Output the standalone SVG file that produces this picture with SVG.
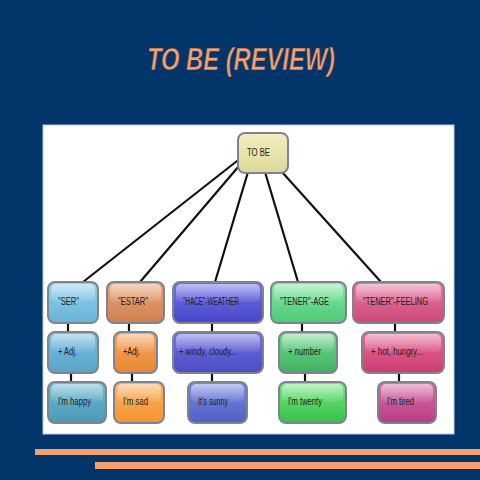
<svg xmlns="http://www.w3.org/2000/svg" width="480" height="480" viewBox="0 0 480 480">
<style>
.bx{stroke:#7d8490;stroke-width:2}
.hl{fill:url(#gloss)}
.t{font-family:"Liberation Sans",Arial,sans-serif;font-size:10px;fill:#1e1e1e}
.c line{stroke:#111;stroke-width:2.2;stroke-linecap:round}
</style>
<defs>
<linearGradient id="gloss" x1="0" y1="0" x2="0" y2="1">
<stop offset="0" stop-color="#fff" stop-opacity="0.55"/>
<stop offset="1" stop-color="#fff" stop-opacity="0.05"/>
</linearGradient>
<linearGradient id="gY" x1="0" y1="0" x2="0" y2="1"><stop offset="0" stop-color="#f2efc0"/><stop offset="1" stop-color="#dcd898"/></linearGradient>
<linearGradient id="gB1" x1="0" y1="0" x2="0" y2="1"><stop offset="0" stop-color="#8fd0ec"/><stop offset="1" stop-color="#68b4d8"/></linearGradient>
<linearGradient id="gB2" x1="0" y1="0" x2="0" y2="1"><stop offset="0" stop-color="#78bde0"/><stop offset="1" stop-color="#58a4c8"/></linearGradient>
<linearGradient id="gB3" x1="0" y1="0" x2="0" y2="1"><stop offset="0" stop-color="#6cb8d0"/><stop offset="1" stop-color="#4c9ab8"/></linearGradient>
<linearGradient id="gO1" x1="0" y1="0" x2="0" y2="1"><stop offset="0" stop-color="#e8a478"/><stop offset="1" stop-color="#d08050"/></linearGradient>
<linearGradient id="gO2" x1="0" y1="0" x2="0" y2="1"><stop offset="0" stop-color="#f4a460"/><stop offset="1" stop-color="#e88830"/></linearGradient>
<linearGradient id="gO3" x1="0" y1="0" x2="0" y2="1"><stop offset="0" stop-color="#fbb060"/><stop offset="1" stop-color="#f49430"/></linearGradient>
<linearGradient id="gV1" x1="0" y1="0" x2="0" y2="1"><stop offset="0" stop-color="#7070e8"/><stop offset="1" stop-color="#4848c8"/></linearGradient>
<linearGradient id="gV2" x1="0" y1="0" x2="0" y2="1"><stop offset="0" stop-color="#7070e0"/><stop offset="1" stop-color="#4c4cc4"/></linearGradient>
<linearGradient id="gV3" x1="0" y1="0" x2="0" y2="1"><stop offset="0" stop-color="#7888e0"/><stop offset="1" stop-color="#5060c4"/></linearGradient>
<linearGradient id="gG1" x1="0" y1="0" x2="0" y2="1"><stop offset="0" stop-color="#80e8a0"/><stop offset="1" stop-color="#50c878"/></linearGradient>
<linearGradient id="gG2" x1="0" y1="0" x2="0" y2="1"><stop offset="0" stop-color="#70d890"/><stop offset="1" stop-color="#40b060"/></linearGradient>
<linearGradient id="gG3" x1="0" y1="0" x2="0" y2="1"><stop offset="0" stop-color="#70e880"/><stop offset="1" stop-color="#38c048"/></linearGradient>
<linearGradient id="gP1" x1="0" y1="0" x2="0" y2="1"><stop offset="0" stop-color="#e87aa2"/><stop offset="1" stop-color="#cc4878"/></linearGradient>
<linearGradient id="gP2" x1="0" y1="0" x2="0" y2="1"><stop offset="0" stop-color="#e86c98"/><stop offset="1" stop-color="#cc3c70"/></linearGradient>
<linearGradient id="gP3" x1="0" y1="0" x2="0" y2="1"><stop offset="0" stop-color="#d870a8"/><stop offset="1" stop-color="#b83c84"/></linearGradient>
</defs>
<rect x="0" y="0" width="480" height="480" fill="#02366b"/>
<text x="241" y="70" text-anchor="middle" font-family="Liberation Sans,Arial,sans-serif" font-size="32" font-weight="bold" font-style="italic" fill="#f4a070" stroke="#1a2a40" stroke-width="0.6" textLength="188" lengthAdjust="spacingAndGlyphs">TO BE (REVIEW)</text>
<rect x="43" y="125" width="411" height="309" fill="#ffffff" stroke="#b8c8d8" stroke-width="1"/>
<rect x="35" y="449" width="445" height="6" fill="#f4a070"/>
<rect x="95" y="462" width="385" height="7" fill="#f4a070"/>
<g class="c" id="connectors">
<line x1="237" y1="161" x2="83" y2="282"/>
<line x1="239" y1="166" x2="140" y2="282"/>
<line x1="248" y1="172" x2="215" y2="282"/>
<line x1="265" y1="172" x2="298" y2="282"/>
<line x1="282" y1="172" x2="381" y2="282"/>
<line x1="68" y1="323" x2="68" y2="332"/>
<line x1="71" y1="373" x2="71" y2="382"/>
<line x1="129" y1="323" x2="129" y2="332"/>
<line x1="132" y1="373" x2="132" y2="382"/>
<line x1="212" y1="323" x2="212" y2="332"/>
<line x1="212" y1="373" x2="212" y2="382"/>
<line x1="302" y1="323" x2="302" y2="332"/>
<line x1="305" y1="373" x2="305" y2="382"/>
<line x1="395" y1="323" x2="395" y2="332"/>
<line x1="399" y1="373" x2="399" y2="382"/>
</g>
<g id="tobe"><rect class="bx" x="238" y="133" width="50" height="40" rx="7" fill="url(#gY)" stroke="#a8a880"/><text class="t" x="247" y="156" textLength="23" lengthAdjust="spacingAndGlyphs">TO BE</text></g>
<g id="ser"><rect class="bx" x="48" y="282" width="50" height="41" rx="7" fill="url(#gB1)"/><rect class="hl" x="51" y="284" width="44" height="18" rx="5"/><text class="t" x="58" y="305" textLength="21" lengthAdjust="spacingAndGlyphs">"SER"</text></g>
<g id="estar"><rect class="bx" x="107" y="282" width="57" height="41" rx="7" fill="url(#gO1)"/><rect class="hl" x="110" y="284" width="51" height="18" rx="5"/><text class="t" x="118" y="305" textLength="30" lengthAdjust="spacingAndGlyphs">"ESTAR"</text></g>
<g id="hace"><rect class="bx" x="173" y="282" width="90" height="41" rx="7" fill="url(#gV1)"/><rect class="hl" x="176" y="284" width="84" height="18" rx="5"/><text class="t" x="183" y="305" textLength="56" lengthAdjust="spacingAndGlyphs">"HACE"-WEATHER</text></g>
<g id="tenerage"><rect class="bx" x="271" y="282" width="75" height="41" rx="7" fill="url(#gG1)"/><rect class="hl" x="274" y="284" width="69" height="18" rx="5"/><text class="t" x="280" y="305" textLength="49" lengthAdjust="spacingAndGlyphs">"TENER"-AGE</text></g>
<g id="tenerfeel"><rect class="bx" x="353" y="282" width="91" height="41" rx="7" fill="url(#gP1)"/><rect class="hl" x="356" y="284" width="85" height="18" rx="5"/><text class="t" x="363" y="305" textLength="65" lengthAdjust="spacingAndGlyphs">"TENER"-FEELING</text></g>
<g id="seradj"><rect class="bx" x="48" y="332" width="50" height="41" rx="7" fill="url(#gB2)"/><rect class="hl" x="51" y="334" width="44" height="18" rx="5"/><text class="t" x="58" y="355" textLength="19" lengthAdjust="spacingAndGlyphs">+ Adj.</text></g>
<g id="estaradj"><rect class="bx" x="114" y="332" width="43" height="41" rx="7" fill="url(#gO2)"/><rect class="hl" x="117" y="334" width="37" height="18" rx="5"/><text class="t" x="123" y="355" textLength="17" lengthAdjust="spacingAndGlyphs">+Adj.</text></g>
<g id="windy"><rect class="bx" x="173" y="332" width="90" height="41" rx="7" fill="url(#gV2)"/><rect class="hl" x="176" y="334" width="84" height="18" rx="5"/><text class="t" x="179" y="355" textLength="58" lengthAdjust="spacingAndGlyphs">+ windy, cloudy...</text></g>
<g id="number"><rect class="bx" x="279" y="332" width="58" height="41" rx="7" fill="url(#gG2)"/><rect class="hl" x="282" y="334" width="52" height="18" rx="5"/><text class="t" x="288" y="355" textLength="33" lengthAdjust="spacingAndGlyphs">+ number</text></g>
<g id="hot"><rect class="bx" x="362" y="332" width="82" height="41" rx="7" fill="url(#gP2)"/><rect class="hl" x="365" y="334" width="76" height="18" rx="5"/><text class="t" x="371" y="355" textLength="52" lengthAdjust="spacingAndGlyphs">+ hot, hungry...</text></g>
<g id="happy"><rect class="bx" x="48" y="382" width="58" height="41" rx="7" fill="url(#gB3)"/><rect class="hl" x="51" y="384" width="52" height="18" rx="5"/><text class="t" x="58" y="405" textLength="33" lengthAdjust="spacingAndGlyphs">I'm happy</text></g>
<g id="sad"><rect class="bx" x="114" y="382" width="50" height="41" rx="7" fill="url(#gO3)"/><rect class="hl" x="117" y="384" width="44" height="18" rx="5"/><text class="t" x="123" y="405" textLength="25" lengthAdjust="spacingAndGlyphs">I'm sad</text></g>
<g id="sunny"><rect class="bx" x="188" y="382" width="59" height="41" rx="7" fill="url(#gV3)"/><rect class="hl" x="191" y="384" width="53" height="18" rx="5"/><text class="t" x="198" y="405" textLength="30" lengthAdjust="spacingAndGlyphs">It's sunny</text></g>
<g id="twenty"><rect class="bx" x="279" y="382" width="67" height="41" rx="7" fill="url(#gG3)"/><rect class="hl" x="282" y="384" width="61" height="18" rx="5"/><text class="t" x="288" y="405" textLength="34" lengthAdjust="spacingAndGlyphs">I'm twenty</text></g>
<g id="tired"><rect class="bx" x="378" y="382" width="58" height="41" rx="7" fill="url(#gP3)"/><rect class="hl" x="381" y="384" width="52" height="18" rx="5"/><text class="t" x="387" y="405" textLength="27" lengthAdjust="spacingAndGlyphs">I'm tired</text></g>
</svg>
